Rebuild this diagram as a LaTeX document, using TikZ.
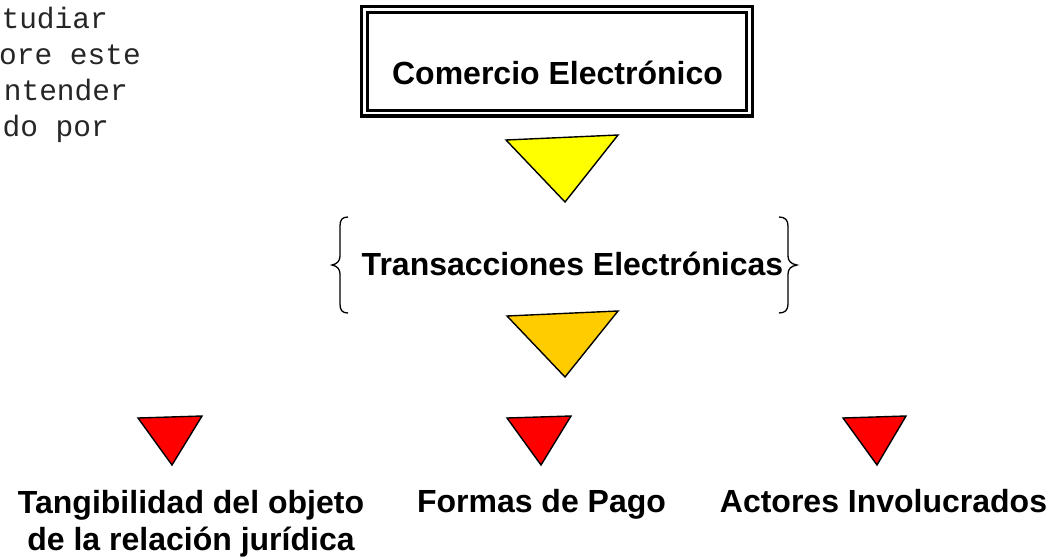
\documentclass[tikz,border=0pt]{standalone}
\usepackage{fontspec}
\setmainfont{Liberation Sans}
\newfontfamily\monofnt{Liberation Mono}
\definecolor{triyellow}{HTML}{FFFF00}
\definecolor{triorange}{HTML}{FFCC00}
\definecolor{trired}{HTML}{FF0000}
\begin{document}
\begin{tikzpicture}[x=1pt,y=-1pt,
  monotext/.style={anchor=base east,inner sep=0pt,font=\monofnt\fontsize{29.5}{36}\selectfont,text=black!85},
  label/.style={anchor=base,inner sep=0pt,font=\bfseries\fontsize{32}{37}\selectfont,align=center},
  tri/.style={draw=black,line width=1.4pt,line join=miter}]
\useasboundingbox (0,0) rectangle (1064,559);
\begin{scope}
\clip (0,0) rectangle (1064,559);
\node[monotext] (m1) at (108,29) {tudiar};
\node[monotext] (m2) at (141,65) {ore este};
\node[monotext] (m3) at (128,100) {ntender};
\node[monotext] (m4) at (109,136) {do por};
\end{scope}
% double box
\draw[line width=3.4pt, draw=black] (361.5,6.5) rectangle (752.5,116);
\draw[line width=2.6pt, draw=black] (367.5,12.5) rectangle (746.5,110.5);
\node[label] (ce) at (557.5,85) {Comercio Electrónico};
% yellow triangle
\coordinate (y1) at (506,140); \coordinate (y2) at (618,135); \coordinate (y3) at (565,202);
\filldraw[tri,fill=triyellow] (y1) -- (y2) -- (y3) -- cycle;
% braces
\draw[line width=1.3pt] (348,217) .. controls (342,217) and (340,220) .. (340,226)
  -- (340,256) .. controls (340,261) and (337,264) .. (332,265)
  .. controls (337,266) and (340,269) .. (340,274)
  -- (340,304) .. controls (340,310) and (342,313) .. (348,313);
\draw[line width=1.3pt] (779,217) .. controls (785,217) and (788,220) .. (788,226)
  -- (788,256) .. controls (788,261) and (791,264) .. (797,265)
  .. controls (791,266) and (788,269) .. (788,274)
  -- (788,304) .. controls (788,310) and (785,313) .. (779,313);
\node[label] (te) at (572.5,275) {Transacciones Electrónicas};
% orange triangle
\coordinate (o1) at (507,316); \coordinate (o2) at (618,311); \coordinate (o3) at (565,377);
\filldraw[tri,fill=triorange] (o1) -- (o2) -- (o3) -- cycle;
% red triangles
\coordinate (ra1) at (138,418); \coordinate (ra2) at (202,416); \coordinate (ra3) at (172,465);
\filldraw[tri,fill=trired] (ra1) -- (ra2) -- (ra3) -- cycle;
\coordinate (rb1) at (507,418); \coordinate (rb2) at (571,416); \coordinate (rb3) at (541,465);
\filldraw[tri,fill=trired] (rb1) -- (rb2) -- (rb3) -- cycle;
\coordinate (rc1) at (843,418); \coordinate (rc2) at (906,416); \coordinate (rc3) at (877,465);
\filldraw[tri,fill=trired] (rc1) -- (rc2) -- (rc3) -- cycle;
% bottom labels (base anchor = last line baseline)
\node[label] (tg) at (191,550) {Tangibilidad del objeto\\de la relación jurídica};
\node[label] (fp) at (541.5,512) {Formas de Pago};
\node[label] (ai) at (883.5,512) {Actores Involucrados};
\end{tikzpicture}
\end{document}
